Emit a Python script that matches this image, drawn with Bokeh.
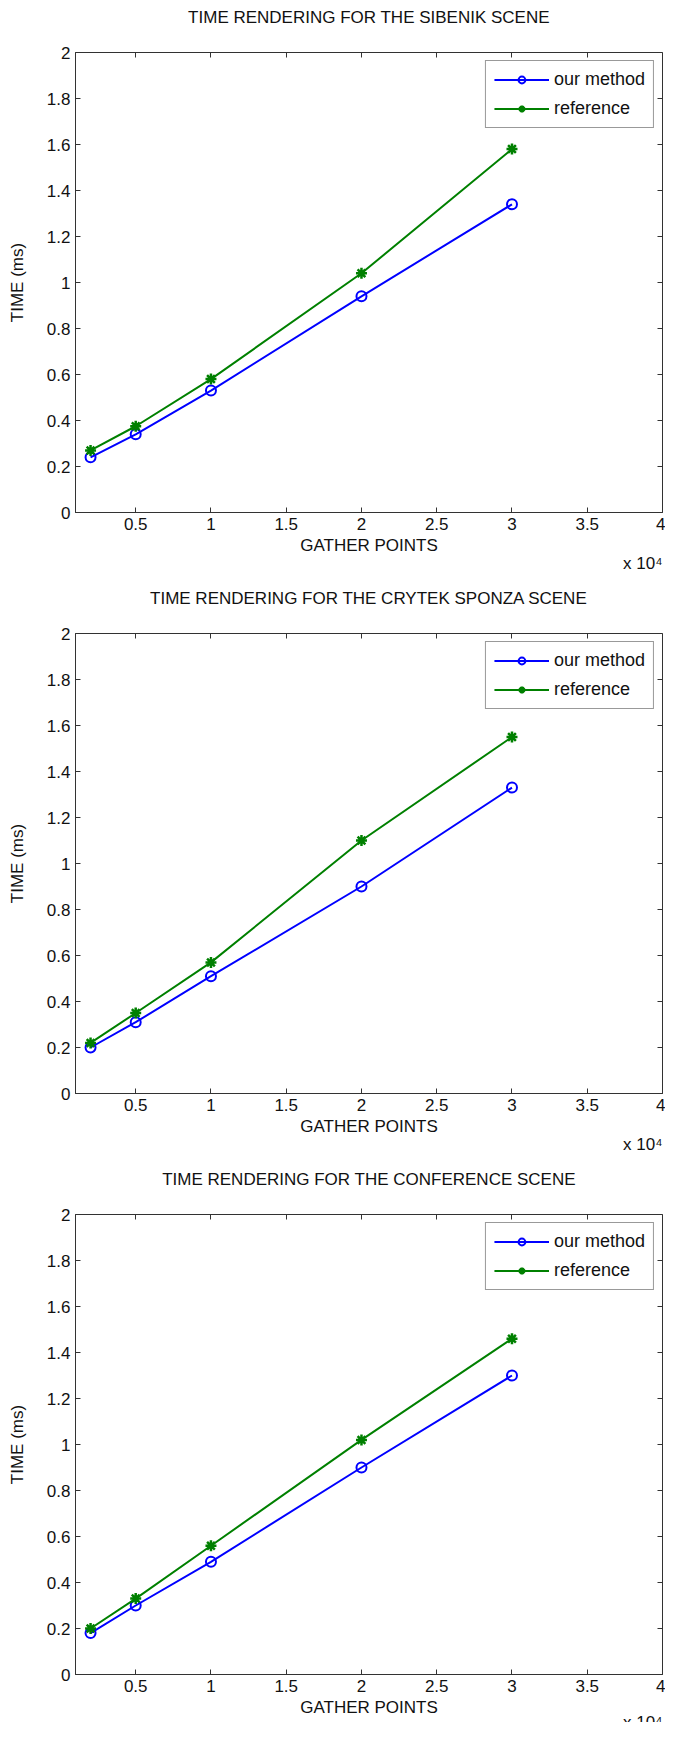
from bokeh.plotting import figure
from bokeh.models import LinearAxis, Range1d, FixedTicker, Legend, LegendItem, Title
from bokeh.layouts import column
from bokeh.embed import file_html
from bokeh.resources import INLINE

# ---------------- data ----------------
titles = [
    "TIME RENDERING FOR THE SIBENIK SCENE",
    "TIME RENDERING FOR THE CRYTEK SPONZA SCENE",
    "TIME RENDERING FOR THE CONFERENCE SCENE",
]
gather_points = [2000, 5000, 10000, 20000, 30000]

sibenik_ours = [0.24, 0.34, 0.53, 0.94, 1.34]
sibenik_ref = [0.27, 0.375, 0.58, 1.04, 1.58]
sponza_ours = [0.20, 0.31, 0.51, 0.90, 1.33]
sponza_ref = [0.22, 0.35, 0.57, 1.10, 1.55]
conference_ours = [0.18, 0.30, 0.49, 0.90, 1.30]
conference_ref = [0.20, 0.33, 0.56, 1.02, 1.46]

series_names = ["our method", "reference"]
x_ticks = [5000, 10000, 15000, 20000, 25000, 30000, 35000, 40000]
x_tick_labels = ["0.5", "1", "1.5", "2", "2.5", "3", "3.5", "4"]
y_ticks = [0, 0.2, 0.4, 0.6, 0.8, 1.0, 1.2, 1.4, 1.6, 1.8, 2.0]
y_tick_labels = ["0", "0.2", "0.4", "0.6", "0.8", "1", "1.2", "1.4", "1.6", "1.8", "2"]
x_label = "GATHER POINTS"
y_label = "TIME (ms)"
x_exponent = "x 10\u2074"

X_MIN, X_MAX = 1000, 40000
Y_MIN, Y_MAX = 0, 2

# ---------------- style ----------------
FONT = "Liberation Sans"
AX = "#333333"
TXT = "#111111"
BLUE = "#0000ff"
GREEN = "#008000"
FRAME_H = 461
TOP = 51


def make_plot(title, ours, ref, height, exp_standoff):
    p = figure(
        width=665, height=height,
        output_backend="svg", toolbar_location=None,
        x_range=Range1d(X_MIN, X_MAX), y_range=Range1d(Y_MIN, Y_MAX),
        min_border_left=75, min_border_right=3,
        min_border_top=TOP, min_border_bottom=height - TOP - FRAME_H,
        title=None,
    )
    p.xgrid.visible = False
    p.ygrid.visible = False
    p.outline_line_color = AX
    p.outline_line_width = 1

    xt = dict(zip(x_ticks, x_tick_labels))
    yt = dict(zip(y_ticks, y_tick_labels))

    for ax in p.xaxis:
        ax.ticker = FixedTicker(ticks=x_ticks)
        ax.major_label_overrides = xt
        ax.axis_label = x_label
    for ax in p.yaxis:
        ax.ticker = FixedTicker(ticks=y_ticks)
        ax.major_label_overrides = yt
        ax.axis_label = y_label

    # mirrored tick marks on the top and right edges of the box
    top = LinearAxis(ticker=FixedTicker(ticks=x_ticks), fixed_location=Y_MAX)
    right = LinearAxis(ticker=FixedTicker(ticks=y_ticks), fixed_location=X_MAX)
    p.add_layout(top, "above")
    p.add_layout(right, "right")

    for ax in p.axis:
        ax.axis_line_color = AX
        ax.major_tick_line_color = AX
        ax.major_tick_in = 5
        ax.major_tick_out = 0
        ax.minor_tick_line_color = None
        ax.major_label_text_font = FONT
        ax.major_label_text_font_size = "17px"
        ax.major_label_text_color = TXT
        ax.axis_label_text_font = FONT
        ax.axis_label_text_font_size = "17px"
        ax.axis_label_text_font_style = "normal"
        ax.axis_label_text_color = TXT
    for ax in p.xaxis:
        ax.major_label_standoff = 5
        ax.axis_label_standoff = 3
    for ax in p.yaxis:
        ax.major_label_standoff = 5
        ax.axis_label_standoff = 17
    for ax in (top, right):
        ax.major_label_text_color = None
        ax.major_label_standoff = 0
        ax.axis_label = None

    # invisible spacer between the box and the title
    spacer = LinearAxis(ticker=FixedTicker(ticks=x_ticks), axis_line_color=None,
                        major_tick_line_color=None, minor_tick_line_color=None,
                        major_tick_in=0, major_tick_out=21,
                        major_label_text_color=None, major_label_standoff=0)
    p.add_layout(spacer, "above")

    main_title = Title(text=title, align="center", text_font=FONT,
                       text_font_size="17px", text_font_style="normal",
                       text_color=TXT, standoff=10)
    p.add_layout(main_title, "above")

    l1 = p.line(gather_points, ours, line_color=BLUE, line_width=2)
    m1 = p.scatter(gather_points, ours, marker="circle", size=10,
                   line_color=BLUE, fill_color=None, line_width=2)
    l2 = p.line(gather_points, ref, line_color=GREEN, line_width=2)
    m2 = p.scatter(gather_points, ref, marker="asterisk", size=11,
                   line_color=GREEN, line_width=2.5)

    legend = Legend(items=[
        LegendItem(label=series_names[0], renderers=[l1, m1]),
        LegendItem(label=series_names[1], renderers=[l2, m2]),
    ])
    legend.location = "top_right"
    legend.margin = 8
    legend.padding = 8
    legend.spacing = 8
    legend.glyph_width = 55
    legend.glyph_height = 17
    legend.label_height = 17
    legend.label_standoff = 5
    legend.label_text_font = FONT
    legend.label_text_font_size = "18px"
    legend.label_text_color = TXT
    legend.border_line_color = AX
    legend.border_line_width = 1
    p.add_layout(legend, "center")

    exp_title = Title(text=x_exponent, align="right", text_font=FONT,
                      text_font_size="17px", text_font_style="normal",
                      text_color=TXT, standoff=exp_standoff)
    p.add_layout(exp_title, "below")
    return p


p1 = make_plot(titles[0], sibenik_ours, sibenik_ref, 581, -12)
p2 = make_plot(titles[1], sponza_ours, sponza_ref, 581, -12)
p3 = make_plot(titles[2], conference_ours, conference_ref, 560, -18)

layout = column(p1, p2, p3, spacing=0)
open("out.html", "w").write(file_html(layout, INLINE))
